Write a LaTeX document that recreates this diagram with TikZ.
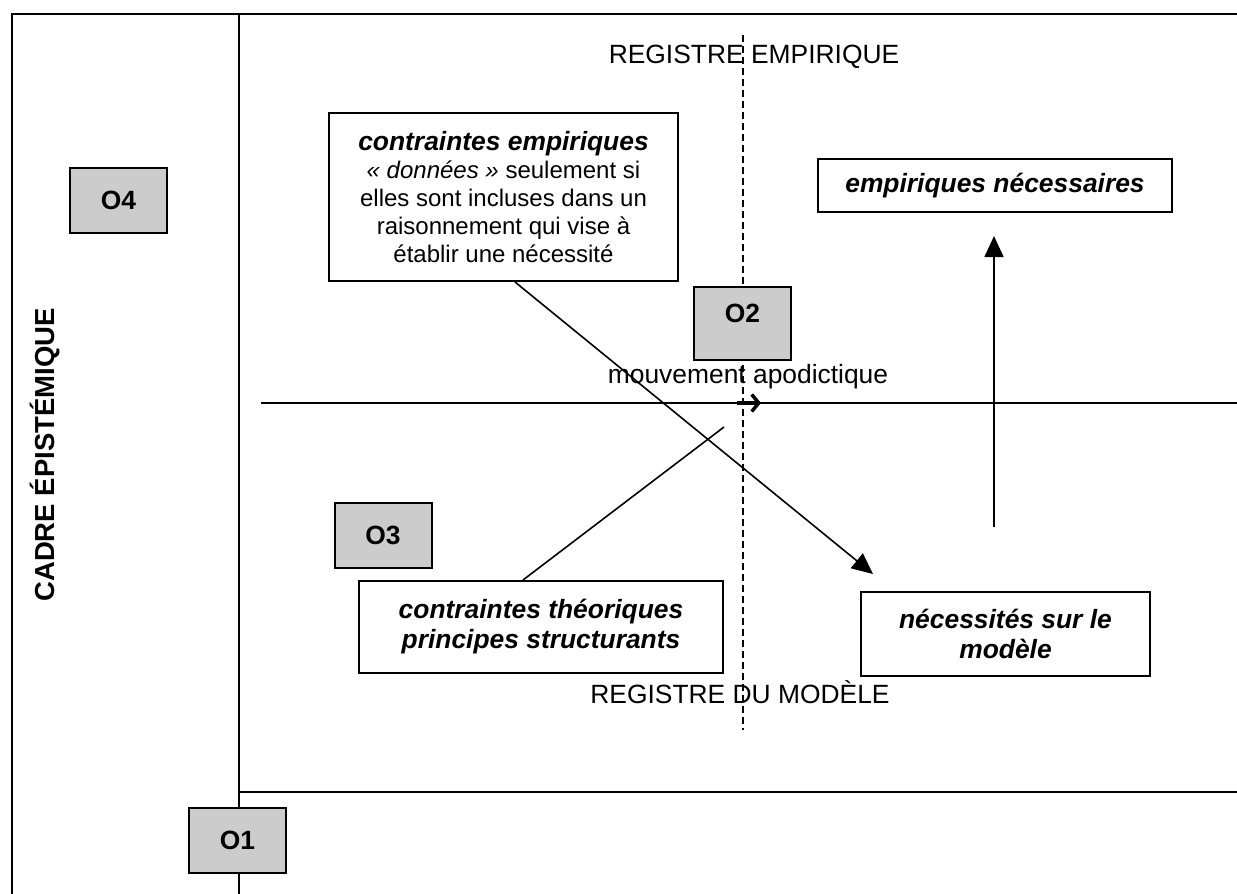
\documentclass[tikz,border=0pt]{standalone}
\usepackage{fontspec}
\setmainfont{Liberation Sans}
\usetikzlibrary{arrows.meta,calc}
\definecolor{obg}{HTML}{CCCCCC}
\begin{document}
\begin{tikzpicture}[x=1pt,y=-1pt,
  frame/.style={line width=2pt},
  obox/.style={draw, line width=2pt, fill=obg, minimum width=97pt, minimum height=65pt, inner sep=0pt, font=\bfseries\fontsize{26.4}{30}\selectfont},
  tbox/.style={draw, fill=white, line width=2pt, inner sep=0pt, align=center, font=\bfseries\itshape\fontsize{26.4}{30}\selectfont},
  reg/.style={font=\fontsize{26.4}{30}\selectfont, inner sep=0pt},
  arr/.style={line width=1.6pt, -{Triangle[length=21pt,width=19pt]}},
  conn/.style={line width=1.6pt},
  dashline/.style={line width=1.7pt, dash pattern=on 7pt off 4pt}
]
\useasboundingbox (0,0) rectangle (1237,894);
% frame
\draw[frame] (12,894) -- (12,13.5) -- (1237,13.5);
\draw[frame] (239,13.5) -- (239,894);
\draw[frame] (239,792) -- (1237,792);
% axes
\draw[dashline] (743,35) -- (743,730);
\draw[conn] (261,403) -- (1237,403);
% labels
\node[reg] (re) at (754,57) {REGISTRE EMPIRIQUE};
\node[reg] (rm) at (740,692) {REGISTRE DU MOD\`ELE};
\node[reg] (ma) at (748,377) {mouvement apodictique};
\node[font=\bfseries\fontsize{27.5}{30}\selectfont, rotate=90, inner sep=0pt] (cadre) at (45,455) {CADRE \'EPIST\'EMIQUE};
% small arrow
\coordinate (sa1) at (737,403);
\coordinate (sa2) at (761,403);
\draw[line width=3.5pt, -{Straight Barb[length=7pt,width=17pt,line width=3.5pt]}] (sa1) -- (sa2);
% text boxes
\node[tbox, minimum width=349pt, minimum height=168pt, font=\fontsize{24}{28}\selectfont] (CE) at (503.5,197)
  {{\bfseries\itshape\fontsize{26.4}{28}\selectfont contraintes empiriques}\\
   {\itshape «~données~»} seulement si\\
   elles sont incluses dans un\\
   raisonnement qui vise à\\
   établir une nécessité};
\node[tbox, minimum width=354pt, minimum height=53pt] (EN) at (995,185.5) {empiriques nécessaires};
\node[tbox, minimum width=289pt, minimum height=84pt] (NM) at (1005.5,634) {nécessités sur le\\modèle};
\node[tbox, minimum width=364pt, minimum height=92pt] (CT) at (541,627) {contraintes théoriques\\principes structurants};
% O boxes
\node[obox] (O4) at (118.5,200) {O4};
\node[obox] (O1) at (237.5,840.5) {O1};
\node[obox] (O3) at (383,535.5) {O3};
\node[obox, minimum height=73pt, text height=19pt, text depth=21pt] (O2) at (742.5,323.5) {O2};
% connectors
\coordinate (e1) at (873,574);
\draw[arr] ([xshift=11.5pt]CE.south) -- (e1);
\coordinate (e2) at (724,427);
\draw[conn] ([xshift=-18pt]CT.north) -- (e2);
\coordinate (u1) at (994,527);
\coordinate (u2) at (994,236);
\draw[arr] (u1) -- (u2);
\end{tikzpicture}
\end{document}
